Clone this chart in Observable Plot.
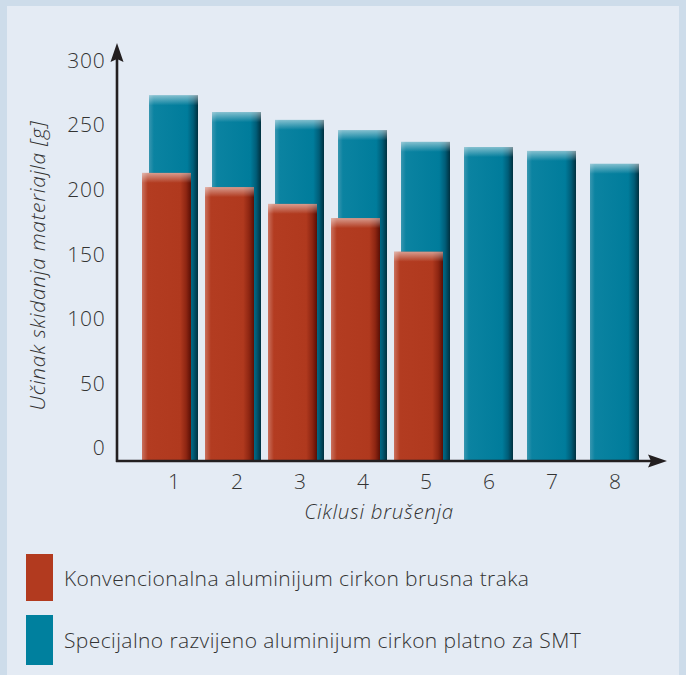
<!DOCTYPE html>
<html><head><meta charset="utf-8">
<script src="https://cdn.jsdelivr.net/npm/d3@7"></script>
<script src="https://cdn.jsdelivr.net/npm/@observablehq/plot@0.6"></script>
<style>
html,body{margin:0;padding:0;}
body{width:686px;height:675px;background:#cddcea;position:relative;overflow:hidden;font-family:"Open Sans",sans-serif;}
#panel{position:absolute;left:7px;top:6px;width:672px;height:669px;background:#e4ebf4;}
#chart{position:absolute;left:0;top:0;}
.leg{position:absolute;left:26px;display:flex;align-items:center;}
.sw{width:27px;}
.lt{margin-left:11px;font-size:21px;color:#333;font-weight:300;letter-spacing:0.4px;}
.ttl{letter-spacing:0.7px;}
.tk text{letter-spacing:0.8px;}
</style></head><body>
<div id="panel"></div>
<div id="chart"></div>
<div id="legend"></div>
<script>
const cycles = [1, 2, 3, 4, 5, 6, 7, 8];
const conventional = [213, 202, 189, 178, 152];
const special = [273, 260, 254, 246, 237, 233, 230, 220];
const yTicks = [0, 50, 100, 150, 200, 250, 300];
const seriesNames = ["Konvencionalna aluminijum cirkon brusna traka", "Specijalno razvijeno aluminijum cirkon platno za SMT"];
const seriesColors = ["#b23a1f", "#00809e"];
const xTitle = "Ciklusi brušenja";
const yTitle = "Učinak skidanja materiajla [g]";
const axisFloor = -10;

const specialData = special.map((v, i) => ({cycle: cycles[i], value: v}));
const convData = conventional.map((v, i) => ({cycle: cycles[i], value: v}));

function axesMark(index, scales, values, dims) {
  const g = d3.create("svg:g");
  const y0 = scales.y(axisFloor);
  const x0 = dims.marginLeft - 18;
  const yTop = dims.marginTop - 2;
  const xEnd = dims.width - 19;
  const col = "#231f20";
  g.append("line").attr("x1", x0).attr("x2", x0).attr("y1", y0 + 1).attr("y2", yTop + 12)
    .attr("stroke", col).attr("stroke-width", 2.6);
  g.append("line").attr("x1", x0 - 1).attr("x2", xEnd - 12).attr("y1", y0).attr("y2", y0)
    .attr("stroke", col).attr("stroke-width", 2.6);
  g.append("path").attr("fill", col)
    .attr("d", `M${x0},${yTop} L${x0 - 6.5},${yTop + 19} L${x0},${yTop + 16} L${x0 + 6.5},${yTop + 19} Z`);
  g.append("path").attr("fill", col)
    .attr("d", `M${xEnd},${y0} L${xEnd - 19},${y0 - 6.5} L${xEnd - 16},${y0} L${xEnd - 19},${y0 + 6.5} Z`);
  return g.node();
}

const plot = Plot.plot({
  width: 686,
  height: 540,
  marginLeft: 135,
  marginRight: 32,
  marginTop: 45,
  marginBottom: 79,
  style: {background: "transparent", color: "#333", fontFamily: "'Open Sans', sans-serif"},
  x: {type: "band", domain: cycles, padding: 0.22, axis: null},
  y: {domain: [axisFloor, 312], axis: null},
  marks: [
    Plot.barY(specialData, {x: "cycle", y1: axisFloor, y2: "value", fill: "url(#gBlue)", className: "bars-blue"}),
    Plot.barY(convData, {x: "cycle", y1: axisFloor, y2: "value", fill: "url(#gRed)", dx: -7, className: "bars-red"}),
    axesMark,
    Plot.axisY({ticks: yTicks, tickSize: 0, tickPadding: 30, fontSize: 21, label: null, fontWeight: 300, className: "tk"}),
    Plot.axisX({tickSize: 0, tickPadding: 13, fontSize: 21, label: null, fontWeight: 300}),
    Plot.text([xTitle], {text: d => d, frameAnchor: "bottom", textAnchor: "middle", dy: 57, dx: -16, fontSize: 20.5, fontStyle: "italic", fontWeight: 300, fill: "#333", className: "ttl"}),
    Plot.text([yTitle], {text: d => d, frameAnchor: "left", textAnchor: "middle", rotate: -90, dx: -97, dy: 12, fontSize: 21, fontStyle: "italic", fontWeight: 300, fill: "#333", className: "ttl"})
  ]
});

// gradients for shaded bars
const svg = d3.select(plot);
const defs = svg.insert("defs", ":first-child");
function hGrad(id, stops) {
  const lg = defs.append("linearGradient").attr("id", id).attr("x1", 0).attr("x2", 1).attr("y1", 0).attr("y2", 0);
  stops.forEach(([o, c]) => lg.append("stop").attr("offset", o).attr("stop-color", c));
}
hGrad("gBlue", [[0, "#3896b0"], [0.1, "#0b83a1"], [0.78, "#007c9b"], [0.9, "#005d78"], [1, "#00303f"]]);
hGrad("gRed", [[0, "#c9705d"], [0.12, "#b33c21"], [0.78, "#b0391e"], [0.9, "#8e2612"], [1, "#5a0f05"]]);
const hl = defs.append("linearGradient").attr("id", "gTop").attr("x1", 0).attr("x2", 0).attr("y1", 0).attr("y2", 1);
hl.append("stop").attr("offset", 0).attr("stop-color", "#ffffff").attr("stop-opacity", 0.5);
hl.append("stop").attr("offset", 1).attr("stop-color", "#ffffff").attr("stop-opacity", 0);
svg.selectAll(".bars-blue rect, .bars-red rect").each(function() {
  const r = d3.select(this);
  d3.select(this.parentNode).append("rect")
    .attr("x", r.attr("x")).attr("width", r.attr("width"))
    .attr("y", r.attr("y")).attr("height", 10)
    .attr("fill", "url(#gTop)");
});

document.getElementById("chart").appendChild(plot);

// legend
const legend = document.getElementById("legend");
const rows = [{top: 554, h: 47}, {top: 615, h: 50}];
seriesNames.forEach((name, i) => {
  const row = document.createElement("div");
  row.className = "leg";
  row.style.top = rows[i].top + "px";
  row.style.height = rows[i].h + "px";
  const sw = document.createElement("div");
  sw.className = "sw";
  sw.style.height = rows[i].h + "px";
  sw.style.background = seriesColors[i];
  const t = document.createElement("span");
  t.className = "lt";
  t.textContent = name;
  row.appendChild(sw);
  row.appendChild(t);
  legend.appendChild(row);
});
</script>
</body></html>
